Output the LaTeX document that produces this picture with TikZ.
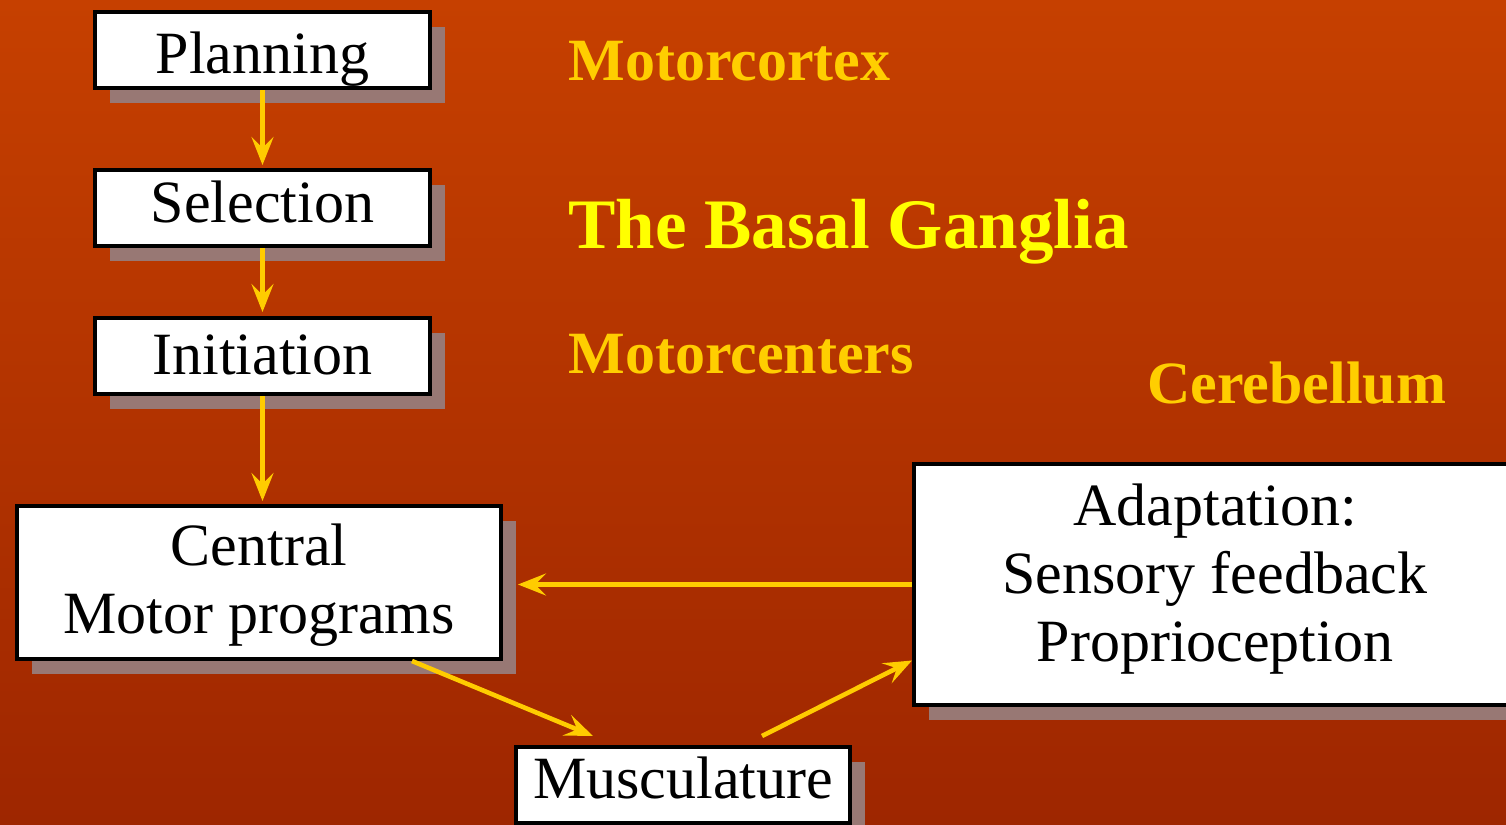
\documentclass[tikz,border=0pt]{standalone}
\usepackage{fontspec}
\setmainfont{Liberation Serif}
\usetikzlibrary{arrows.meta,shadows,calc}

\definecolor{bgtop}{RGB}{198,64,0}
\definecolor{bgbottom}{RGB}{158,38,0}
\definecolor{flow}{RGB}{255,204,0}
\definecolor{regionlabel}{RGB}{255,206,0}
\definecolor{basal}{RGB}{255,255,0}
\definecolor{boxshadow}{RGB}{152,120,116}

\begin{document}
\begin{tikzpicture}[x=0.5pt,y=-0.5pt,
  stage/.style={draw=black, line width=2pt, fill=white, inner sep=0pt,
    font=\fontsize{30}{34}\selectfont, align=center,
    drop shadow={shadow xshift=7.5pt, shadow yshift=-7.5pt,
      fill=boxshadow, draw=none, opacity=1}},
  region/.style={anchor=base west, inner sep=0pt,
    font=\bfseries\fontsize{30}{34}\selectfont, text=regionlabel},
  flowarrow/.style={draw=flow, line width=2.3pt,
    -{Stealth[length=14pt,width=11pt,inset=5.5pt]}}
]
% canvas and background
\useasboundingbox (0,0) rectangle (1506,825);
\clip (0,0) rectangle (1506,825);
\shade[top color=bgtop, bottom color=bgbottom] (0,0) rectangle (1506,825);

% processing stages
\node[stage, minimum width=167.5pt, minimum height=38pt,
  text height=23pt, text depth=0pt] (plan) at (262.5,50) {Planning};
\node[stage, minimum width=167.5pt, minimum height=38pt,
  text height=14pt, text depth=0pt] (sel) at (262.5,208) {Selection};
\node[stage, minimum width=167.5pt, minimum height=38pt,
  text height=18pt, text depth=0pt] (init) at (262.5,356) {Initiation};
\node[stage, minimum width=242pt, minimum height=76.5pt,
  text height=55pt, text depth=4.5pt] (central) at (259,582.5)
  {Central\\Motor programs};
\node[stage, minimum width=167pt, minimum height=38pt,
  text height=13pt, text depth=0pt] (musc) at (683,785) {Musculature};
\node[stage, minimum width=301pt, minimum height=120.5pt,
  text height=80pt, text depth=3.5pt] (adapt) at (1215,584.5)
  {Adaptation:\\Sensory feedback\\Proprioception};

% brain regions
\node[region] (cortex) at (568,80) {Motorcortex};
\node[region, text=basal, font=\bfseries\fontsize{35.5}{40}\selectfont]
  (basalg) at (568,248) {The Basal Ganglia};
\node[region] (centers) at (568,373) {Motorcenters};
\node[region] (cereb) at (1147,403) {Cerebellum};

% connectors
\draw[flowarrow, shorten >=1.5pt] (plan.south) -- (sel.north);
\draw[flowarrow, shorten >=2pt] (sel.south) -- (init.north);
\draw[flowarrow, shorten >=1.5pt] (init.south) -- (init.south |- central.north);
\draw[flowarrow, shorten >=7.5pt] (adapt.west) -- (adapt.west -| central.east);
\draw[flowarrow] ([xshift=76.5pt]central.south)
  -- ([xshift=39.5pt,yshift=4.5pt]musc.north west);
\draw[flowarrow] ([xshift=124pt,yshift=4.5pt]musc.north west)
  -- ([yshift=-38pt]adapt.west);
\end{tikzpicture}
\end{document}
